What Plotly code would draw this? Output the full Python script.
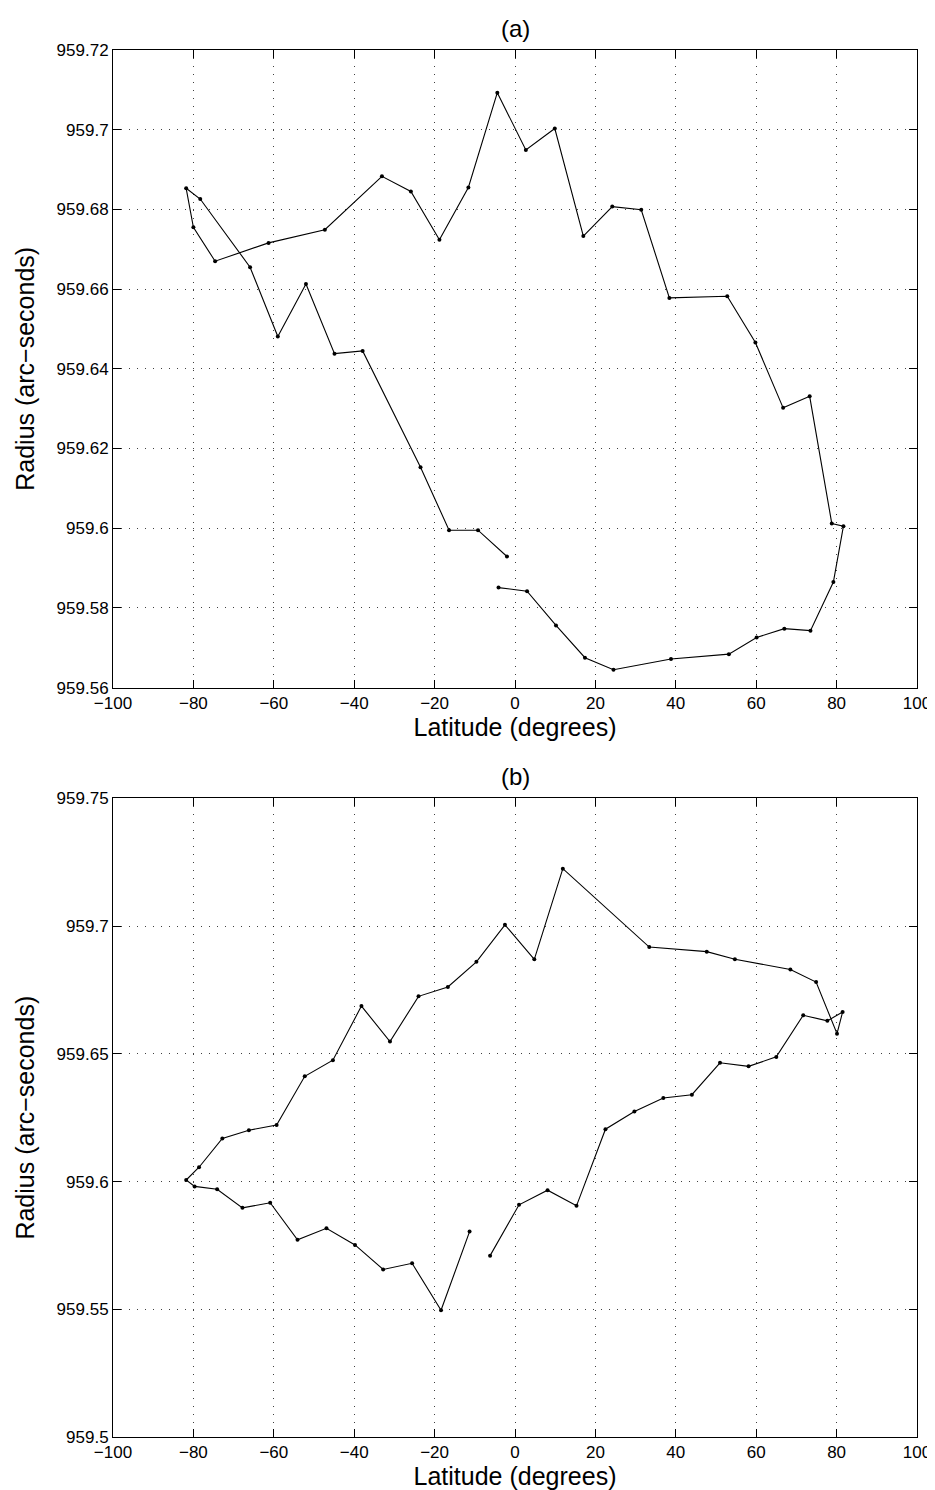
import plotly.graph_objects as go
from plotly.subplots import make_subplots

# ---- data: panel (a)
lat_a = [-4.1, 3.0, 10.2, 17.4, 24.5, 38.8, 53.2, 60.1, 67.0, 73.5, 79.2, 81.7, 78.8, 73.3, 66.7,
         59.8, 52.8, 38.4, 31.4, 24.2, 17.0, 9.9, 2.7, -4.4, -11.6, -18.8, -25.9, -33.1, -47.3,
         -61.3, -74.6, -80.0, -81.8, -78.3, -65.9, -59.0, -52.0, -44.9, -37.9, -23.5, -16.4,
         -9.2, -2.0]
rad_a = [959.5851, 959.5842, 959.5756, 959.5675, 959.5645, 959.5672, 959.5684, 959.5726, 959.5748,
         959.5743, 959.5865, 959.6005, 959.6012, 959.6331, 959.6302, 959.6466, 959.6582, 959.6578,
         959.6799, 959.6807, 959.6733, 959.7003, 959.6949, 959.7093, 959.6855, 959.6724, 959.6845,
         959.6883, 959.6749, 959.6716, 959.6670, 959.6755, 959.6853, 959.6826, 959.6655, 959.6481,
         959.6613, 959.6438, 959.6445, 959.6153, 959.5995, 959.5995, 959.5929]

# ---- data: panel (b)
lat_b = [-6.2, 1.0, 8.1, 15.3, 22.5, 29.7, 36.9, 44.0, 51.0, 58.1, 65.0, 71.7, 77.7, 81.5, 80.1,
         74.9, 68.5, 54.7, 47.7, 33.4, 11.9, 4.8, -2.5, -9.6, -16.7, -24.0, -31.1, -38.2, -45.3,
         -52.3, -59.3, -66.2, -72.8, -78.6, -81.8, -79.7, -74.1, -67.8, -60.9, -54.1, -46.9,
         -39.8, -32.8, -25.6, -18.4, -11.3]
rad_b = [959.5710, 959.5909, 959.5966, 959.5905, 959.6205, 959.6274, 959.6327, 959.6340, 959.6465,
         959.6451, 959.6488, 959.6651, 959.6629, 959.6664, 959.6579, 959.6781, 959.6830, 959.6870,
         959.6900, 959.6918, 959.7225, 959.6870, 959.7005, 959.6860, 959.6762, 959.6725, 959.6548,
         959.6687, 959.6475, 959.6412, 959.6221, 959.6201, 959.6169, 959.6056, 959.6006, 959.5981,
         959.5970, 959.5897, 959.5917, 959.5772, 959.5817, 959.5752, 959.5656, 959.5680, 959.5496,
         959.5804]

# ---- ticks
x_ticks = [-100, -80, -60, -40, -20, 0, 20, 40, 60, 80, 100]
x_labels = ["\u2212100", "\u221280", "\u221260", "\u221240", "\u221220", "0", "20", "40", "60", "80", "100"]
ya_ticks = [959.56, 959.58, 959.60, 959.62, 959.64, 959.66, 959.68, 959.70, 959.72]
ya_labels = ["959.56", "959.58", "959.6", "959.62", "959.64", "959.66", "959.68", "959.7", "959.72"]
yb_ticks = [959.50, 959.55, 959.60, 959.65, 959.70, 959.75]
yb_labels = ["959.5", "959.55", "959.6", "959.65", "959.7", "959.75"]

titles = ["(a)", "(b)"]
x_title = "Latitude (degrees)"
y_title = "Radius (arc\u2212seconds)"

FONT = "Liberation Sans, Arial, Helvetica, sans-serif"

fig = make_subplots(rows=2, cols=1, vertical_spacing=0.08)

for r, (xs, ys) in enumerate([(lat_a, rad_a), (lat_b, rad_b)], start=1):
    fig.add_trace(go.Scatter(x=xs, y=ys, mode="lines+markers",
                             line=dict(color="black", width=1.1),
                             marker=dict(color="black", size=4),
                             showlegend=False), row=r, col=1)

axis_common = dict(
    showline=True, linecolor="black", linewidth=1, mirror="ticks",
    ticks="inside", ticklen=8, tickwidth=1, tickcolor="black",
    showgrid=True, gridcolor="rgba(0,0,0,0.75)", gridwidth=1, griddash="1px,7px",
    zeroline=False, tickfont=dict(size=17, color="black", family=FONT),
    title_font=dict(size=25, color="black", family=FONT),
)

top_dom = [(1432 - 681) / 1390, 1.0]
bot_dom = [0.0, (1432 - 792) / 1390]

fig.update_layout(
    xaxis=dict(axis_common, range=[-100, 100], tickvals=x_ticks, ticktext=x_labels,
               title=dict(text=x_title, standoff=6), anchor="y"),
    yaxis=dict(axis_common, range=[959.56, 959.72], tickvals=ya_ticks, ticktext=ya_labels,
               domain=top_dom, title=dict(text=y_title, standoff=14), anchor="x"),
    xaxis2=dict(axis_common, range=[-100, 100], tickvals=x_ticks, ticktext=x_labels,
                title=dict(text=x_title, standoff=6), anchor="y2"),
    yaxis2=dict(axis_common, range=[959.5, 959.75], tickvals=yb_ticks, ticktext=yb_labels,
                domain=bot_dom, title=dict(text=y_title, standoff=14), anchor="x2"),
    width=935, height=1490,
    margin=dict(l=105, r=19, t=42, b=58),
    paper_bgcolor="white", plot_bgcolor="white",
    font=dict(family=FONT, color="black"),
)

for txt, ytop in zip(titles, [top_dom[1], bot_dom[1]]):
    fig.add_annotation(text=txt, x=0.5, y=ytop, xref="paper", yref="paper",
                       xanchor="center", yanchor="middle", yshift=22, showarrow=False,
                       font=dict(size=24, color="black", family=FONT))

fig.write_html("out.html")
